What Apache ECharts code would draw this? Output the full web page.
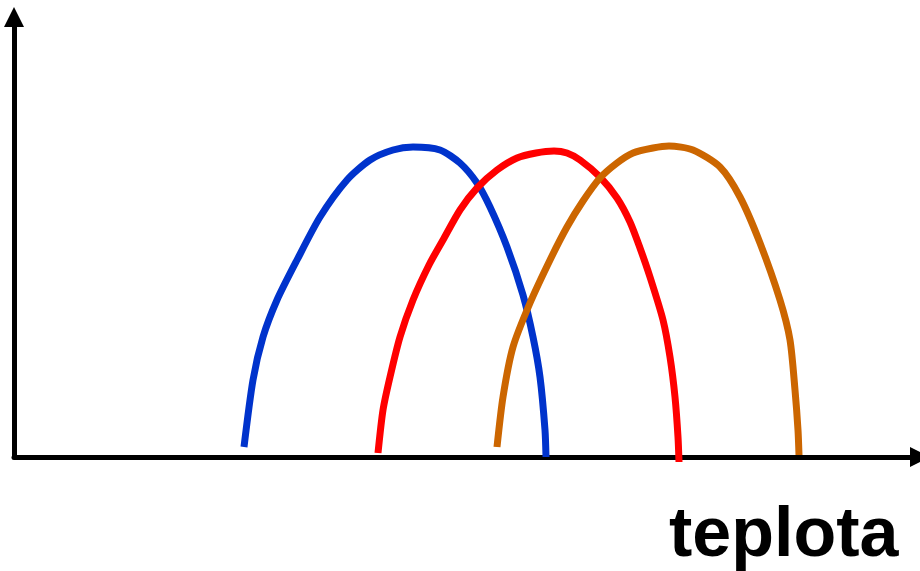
<!DOCTYPE html>
<html>
<head>
    <meta charset="utf-8">
    <title>teplota</title>
    <script src="https://cdn.jsdelivr.net/npm/echarts@6/dist/echarts.min.js"></script>
</head>
<body style="margin:0;background:#fff;">
    <div id="chart" style="width: 920px;height:571px;"></div>
    <script type="text/javascript">
        // krivky: [x, y]
        var blueCurve = [[230,10],[239,77],[249,120],[263,157],[283,197],[306,240],[333,277],[356,297],[379,307],[399,310],
            [426,307],[446,294],[463,274],[476,250],[493,210],[509,162],[519,120],[526,80],[531,27],[532,0]];
        var redCurve = [[364,4],[369,47],[376,80],[386,120],[399,157],[415,192],[429,217],[446,247],[463,269],[483,287],
            [503,299],[522,304],[540,306],[553,304],[566,297],[586,280],[603,259],[616,235],[626,209],[636,180],[649,137],
            [656,100],[661,60],[664,20],[665,-5]];
        var orangeCurve = [[483,10],[489,60],[499,110],[516,154],[537,199],[553,230],[569,256],[586,279],[603,294],[619,304],
            [639,309],[655,311],[679,307],[706,290],[726,260],[746,214],[766,157],[776,117],[781,67],[784,27],[785,2]];
        var xLabel = 'teplota';

        var chart = echarts.init(document.getElementById('chart'));

        function curve(data, color) {
            return {
                type: 'line',
                data: data,
                smooth: 0.25,
                showSymbol: false,
                clip: false,
                lineStyle: { color: color, width: 7 }
            };
        }

        var axisCommon = {
            type: 'value',
            axisLabel: { show: false },
            axisTick: { show: false },
            splitLine: { show: false },
            axisLine: {
                show: true,
                symbol: ['none', 'triangle'],
                symbolSize: [20, 20],
                lineStyle: { color: '#000', width: 5 }
            }
        };

        var option = {
            animation: false,
            grid: { left: 14, right: 0, top: 17, bottom: 114 },
            xAxis: Object.assign({}, axisCommon, { min: 0, max: 906 }),
            yAxis: Object.assign({}, axisCommon, { min: 0, max: 440 }),
            graphic: [{
                type: 'text',
                left: 669,
                top: 502,
                style: { text: xLabel, font: 'bold 70px "Liberation Sans", Arial, sans-serif', fill: '#000' }
            }],
            series: [
                curve(blueCurve, '#0033CC'),
                curve(redCurve, '#FF0000'),
                curve(orangeCurve, '#CC6600')
            ]
        };
        chart.setOption(option);
    </script>
</body>
</html>
